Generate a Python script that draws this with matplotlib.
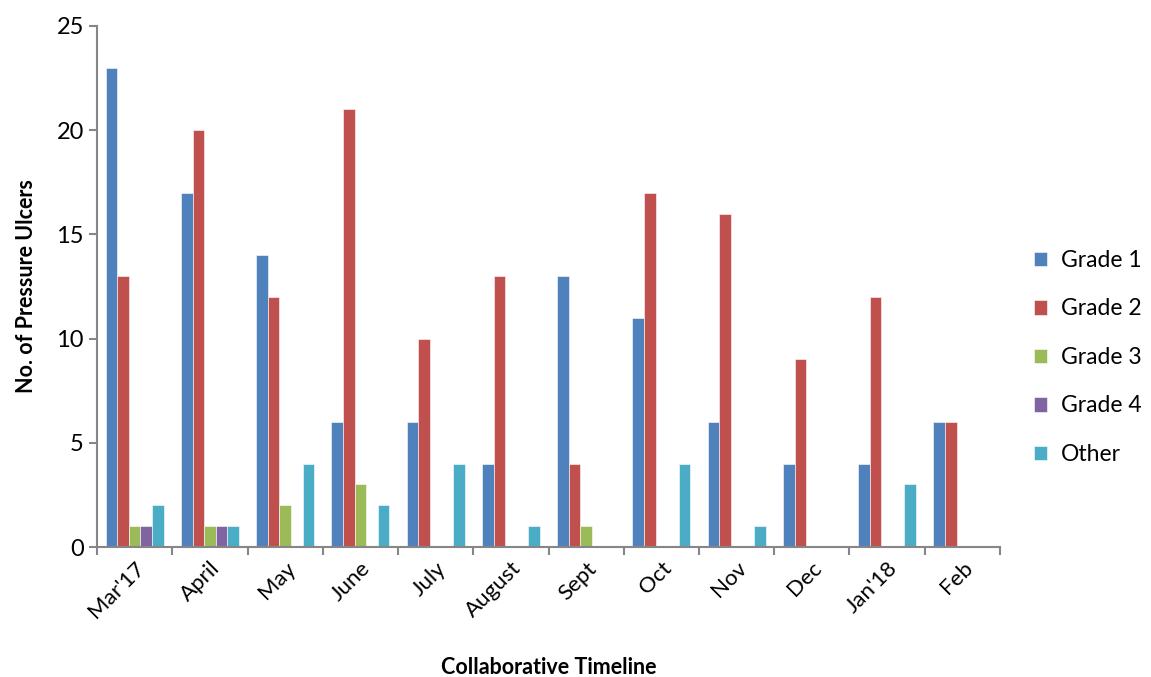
import numpy as np
import matplotlib.pyplot as plt

plt.rcParams['font.family'] = ['Lato', 'DejaVu Sans']

months = ["Mar'17", 'April', 'May', 'June', 'July', 'August', 'Sept',
          'Oct', 'Nov', 'Dec', "Jan'18", 'Feb']
grade1 = [23, 17, 14, 6, 6, 4, 13, 11, 6, 4, 4, 6]
grade2 = [13, 20, 12, 21, 10, 13, 4, 17, 16, 9, 12, 6]
grade3 = [1, 1, 2, 3, 0, 0, 1, 0, 0, 0, 0, 0]
grade4 = [1, 1, 0, 0, 0, 0, 0, 0, 0, 0, 0, 0]
other = [2, 1, 4, 2, 4, 1, 0, 4, 1, 0, 3, 0]

series = [('Grade 1', grade1, '#4F81BD'),
          ('Grade 2', grade2, '#C0504D'),
          ('Grade 3', grade3, '#9BBB59'),
          ('Grade 4', grade4, '#8064A2'),
          ('Other', other, '#4BACC6')]

fig = plt.figure(figsize=(11.51, 6.77), dpi=100)
ax = fig.add_axes([0.0843, 0.192, 0.7845, 0.7696])

x = np.arange(len(months))
w = 1 / 6.5
for i, (name, vals, col) in enumerate(series):
    ax.bar(x + (i - 2) * w, vals, width=w, color=col, label=name,
           edgecolor='white', linewidth=0.4)

ax.set_xlim(-0.5, len(months) - 0.5)
ax.set_ylim(0, 25)
ax.set_yticks(range(0, 26, 5))
ax.set_xticks(np.arange(-0.5, len(months), 1))
ax.set_xticklabels([])
ax.set_xticks(x, minor=True)
ax.set_xticklabels(months, minor=True, rotation=45, ha='right',
                   rotation_mode='anchor', fontsize=16)
ax.tick_params(axis='x', which='minor', length=0, pad=8)
ax.tick_params(axis='x', which='major', length=6, width=1.5, color='#868686')
ax.tick_params(axis='y', length=6, width=1.5, color='#868686', labelsize=17)

for s in ['top', 'right']:
    ax.spines[s].set_visible(False)
for s in ['left', 'bottom']:
    ax.spines[s].set_color('#868686')
    ax.spines[s].set_linewidth(1.5)

ax.set_xlabel('Collaborative Timeline', fontsize=15.5, fontweight='bold',
              labelpad=25)
ax.set_ylabel('No. of Pressure Ulcers', fontsize=15.5, fontweight='bold',
              labelpad=14)

fig.legend(loc='center left', bbox_to_anchor=(0.88, 0.472), frameon=False,
           fontsize=16.5, handlelength=0.6, handleheight=0.6,
           labelspacing=1.2, handletextpad=0.6)

fig.savefig('out.png', dpi=100)
